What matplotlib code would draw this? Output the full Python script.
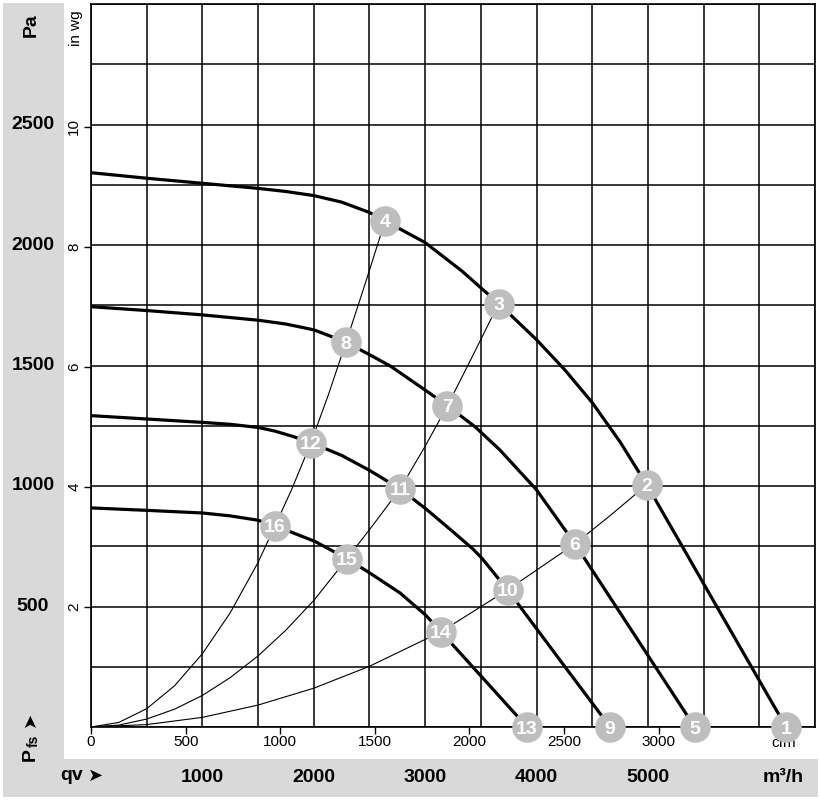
import numpy as np
import matplotlib
matplotlib.use("Agg")
import matplotlib.pyplot as plt
from matplotlib.patches import Rectangle
from matplotlib.transforms import blended_transform_factory

plt.rcParams["font.family"] = ["Liberation Sans", "DejaVu Sans"]

# fan curves, qv in m3/h and pfs in Pa
fan1_q = [0, 500, 1000, 1500, 1750, 2000, 2250, 2500, 2640, 3000, 3330, 3660, 4000, 4250, 4500, 4750, 4990, 5310, 5630, 5930, 6240]
fan1_p = [2300, 2277, 2256, 2235, 2222, 2205, 2178, 2135, 2100, 2010, 1892, 1757, 1607, 1484, 1346, 1183, 1005, 748, 490, 249, 0]

fan2_q = [0, 500, 1000, 1500, 1750, 2000, 2290, 2500, 2690, 3000, 3200, 3450, 3670, 4000, 4345, 4750, 5000, 5420]
fan2_p = [1744, 1728, 1710, 1688, 1672, 1648, 1597, 1545, 1497, 1398, 1333, 1245, 1150, 984, 760, 474, 297, 0]

fan3_q = [0, 500, 1000, 1250, 1500, 1650, 1810, 1975, 2250, 2500, 2775, 3007, 3250, 3430, 3510, 3740, 4000, 4250, 4500, 4660]
fan3_p = [1292, 1278, 1264, 1256, 1243, 1228, 1206, 1180, 1127, 1065, 988, 905, 810, 738, 700, 569, 408, 253, 99, 0]

fan4_q = [0, 500, 1000, 1250, 1500, 1652, 2011, 2298, 2500, 2775, 3003, 3142, 3510, 3915]
fan4_p = [909, 899, 888, 876, 858, 835, 770, 698, 640, 556, 465, 395, 207, 0]

fan_curves = [(fan1_q, fan1_p), (fan2_q, fan2_p), (fan3_q, fan3_p), (fan4_q, fan4_p)]

# system curves through the operating points
sysA_q = [0, 250, 500, 750, 1000, 1250, 1500, 1652, 1800, 1975, 2130, 2290, 2460, 2640]
sysA_p = [0, 19, 76, 171, 304, 474, 683, 835, 984, 1180, 1377, 1597, 1837, 2100]

sysB_q = [0, 250, 500, 750, 1000, 1250, 1500, 1750, 2000, 2298, 2540, 2775, 3000, 3200, 3430, 3660]
sysB_p = [0, 8, 33, 74, 131, 205, 295, 402, 525, 698, 843, 988, 1165, 1333, 1543, 1757]

sysC_q = [0, 500, 1000, 1500, 2000, 2500, 3142, 3740, 4345, 4660, 4990]
sysC_p = [0, 10, 40, 91, 161, 252, 395, 569, 760, 877, 1005]

sys_curves = [(sysA_q, sysA_p), (sysB_q, sysB_p), (sysC_q, sysC_p)]

# numbered operating points
point_ids = [str(i) for i in range(1, 17)]
point_q = [6240, 4990, 3660, 2640, 5420, 4345, 3200, 2290, 4660, 3740, 2775, 1975, 3915, 3142, 2298, 1652]
point_p = [0, 1005, 1757, 2100, 0, 760, 1333, 1597, 0, 569, 988, 1180, 0, 395, 698, 835]

# axis labels
pa_ticks = [500, 1000, 1500, 2000, 2500]
m3h_ticks = [1000, 2000, 3000, 4000, 5000]
cfm_ticks = [0, 500, 1000, 1500, 2000, 2500, 3000]
inwg_ticks = [2, 4, 6, 8, 10]

M3H_PER_CFM = 1.699
PA_PER_INWG = 249.09

W, H = 820, 802
fig = plt.figure(figsize=(W / 100, H / 100), dpi=100)

# gray bands behind the outer labels
band = "#d9d9d9"
fig.patches.append(Rectangle((3 / W, 5 / H), 61 / W, 794 / H, transform=fig.transFigure,
                             facecolor=band, edgecolor="none", zorder=-1))
fig.patches.append(Rectangle((3 / W, 5 / H), 815 / W, 38 / H, transform=fig.transFigure,
                             facecolor=band, edgecolor="none", zorder=-1))

ax = fig.add_axes([91 / W, 75 / H, 724 / W, 723 / H])
ax.set_xlim(0, 6500)
ax.set_ylim(0, 3000)
ax.set_xticks(np.arange(0, 6501, 500))
ax.set_yticks(np.arange(0, 3001, 250))
ax.grid(True, color="black", linewidth=1.1)
ax.set_axisbelow(True)
ax.tick_params(length=0, labelbottom=False, labelleft=False)
for sp in ax.spines.values():
    sp.set_color("black")
    sp.set_linewidth(1.2)

for q, p in sys_curves:
    ax.plot(q, p, color="black", linewidth=0.8, zorder=3)
for q, p in fan_curves:
    ax.plot(q, p, color="black", linewidth=2.3, zorder=4, solid_capstyle="round",
            solid_joinstyle="round")

ax.plot(point_q, point_p, "o", markersize=22, color="#bebebe", markeredgecolor="none",
        clip_on=False, zorder=6)
for label, q, p in zip(point_ids, point_q, point_p):
    ax.text(q, p, label, color="white", fontsize=14, fontweight="bold",
            ha="center", va="center_baseline", zorder=7, clip_on=False)

# inner cfm axis
sec_x = ax.secondary_xaxis("bottom", functions=(lambda v: v / M3H_PER_CFM, lambda v: v * M3H_PER_CFM))
sec_x.set_xticks(cfm_ticks)
sec_x.tick_params(length=5, width=1, direction="out", labelsize=11, pad=1)
sec_x.spines["bottom"].set_visible(False)
ax.text(6215, -0.012, "cfm", transform=ax.get_xaxis_transform(), fontsize=11,
        ha="center", va="top", zorder=5)

# inner in wg axis
sec_y = ax.secondary_yaxis("left", functions=(lambda v: v / PA_PER_INWG, lambda v: v * PA_PER_INWG))
sec_y.set_yticks(inwg_ticks)
sec_y.tick_params(length=5, width=1, direction="out", labelsize=11, pad=2)
sec_y.spines["left"].set_visible(False)
for t in sec_y.get_yticklabels():
    t.set_rotation(90)
    t.set_va("center")
fig.text(76 / W, 1 - 28 / H, "in wg", rotation=90, fontsize=11, ha="center", va="center")

# outer Pa labels
ty = blended_transform_factory(fig.transFigure, ax.transData)
for v in pa_ticks:
    ax.text(33 / W, v, str(v), transform=ty, fontsize=14, fontweight="bold",
            ha="center", va="center", clip_on=False)
fig.text(31 / W, 1 - 25 / H, "Pa", rotation=90, fontsize=14, fontweight="bold",
         ha="center", va="center")
fig.text(30 / W, 1 - 755 / H, "P", rotation=90, fontsize=14, fontweight="bold",
         ha="center", va="center")
fig.text(34 / W, 1 - 741 / H, "fs", rotation=90, fontsize=10, fontweight="bold",
         ha="center", va="center")
fig.text(30 / W, 1 - 719 / H, "➤", rotation=90, fontsize=13, ha="center", va="center",
         family=["DejaVu Sans"])

# outer m3/h labels
tx = blended_transform_factory(ax.transData, fig.transFigure)
for v in m3h_ticks:
    ax.text(v, 1 - 777 / H, str(v), transform=tx, fontsize=14, fontweight="bold",
            ha="center", va="center", clip_on=False)
ax.text(6213, 1 - 777 / H, "m³/h", transform=tx, fontsize=14, fontweight="bold",
        ha="center", va="center", clip_on=False)
fig.text(60 / W, 1 - 776 / H, "qv", fontsize=14, fontweight="bold", ha="left", va="center")
fig.text(88 / W, 1 - 776 / H, "➤", fontsize=13, ha="left", va="center", family=["DejaVu Sans"])

fig.savefig("out.png", dpi=100)
